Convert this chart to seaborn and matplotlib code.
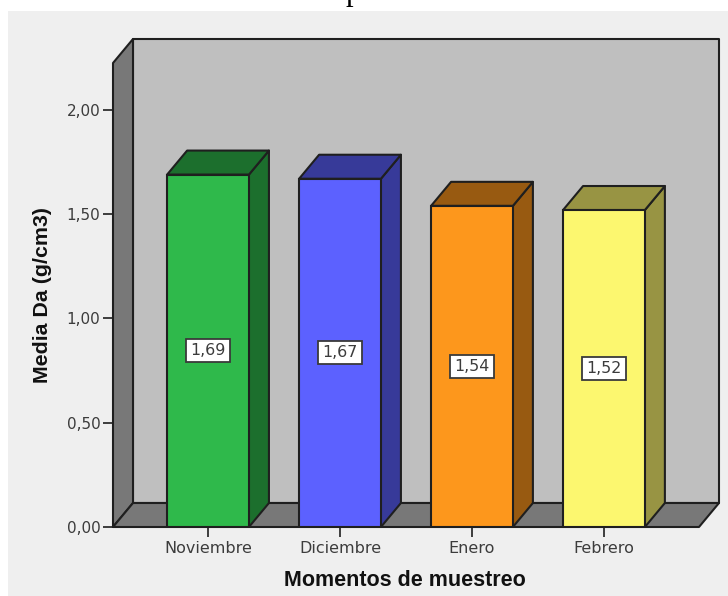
import matplotlib
matplotlib.use("Agg")
import matplotlib.pyplot as plt
from matplotlib.patches import Rectangle
import pandas as pd
import seaborn as sns

# Bulk density per sampling moment
momentos = ["Noviembre", "Diciembre", "Enero", "Febrero"]
media_da = [1.69, 1.67, 1.54, 1.52]
etiquetas = ["1,69", "1,67", "1,54", "1,52"]
y_ticks = [0.0, 0.5, 1.0, 1.5, 2.0]
y_tick_labels = ["0,00", "0,50", "1,00", "1,50", "2,00"]

color_frente = ["#2FB94B", "#5C61FF", "#FD971C", "#FCF76F"]
color_lado = ["#1C6F2D", "#373A99", "#985A11", "#989443"]

W, H = 728, 596
LINE = "#1f1f1f"
TEXT = "#3c3c3c"

sns.set_theme(style="white")
plt.rcParams["font.family"] = ["DejaVu Sans"]

fig = plt.figure(figsize=(W / 100, H / 100), dpi=100, facecolor="white")
fig.add_artist(Rectangle((8 / W, 0), 1 - 8 / W, 1 - 11 / H, transform=fig.transFigure,
                         facecolor="#EFEFEF", edgecolor="none", zorder=-5))
fig.text(346 / W, 1.0, "p", family="Liberation Serif", fontsize=22,
         color="black", ha="left", va="baseline")

ax = fig.add_axes([113 / W, 1 - 527 / H, (699 - 113) / W, (527 - 63) / H])
ax.patch.set_alpha(0)

df = pd.DataFrame({"momento": momentos, "media": media_da})
sns.barplot(data=df, x="momento", y="media", hue="momento", palette=color_frente,
            legend=False, width=0.62, saturation=1, edgecolor=LINE, linewidth=1.5,
            zorder=5, ax=ax)

x0, x1 = -0.72, 3.72
y0, y1 = 0.0, 2.225
ax.set_xlim(x0, x1)
ax.set_ylim(y0, y1)

# Oblique depth of the 3D box, in data units
dx = 20 / 132
dy = 24 / 208.5


def cara(xs, ys, color, z):
    ax.fill(xs, ys, facecolor=color, edgecolor=LINE, linewidth=1.5,
            clip_on=False, zorder=z, joinstyle="round")


# Back wall, left wall and floor
cara([x0 + dx, x1 + dx, x1 + dx, x0 + dx], [dy, dy, y1 + dy, y1 + dy], "#BFBFBF", 1)
cara([x0, x0 + dx, x0 + dx, x0], [y0, dy, y1 + dy, y1], "#787878", 2)
cara([x0, x1, x1 + dx, x0 + dx], [y0, y0, dy, dy], "#787878", 2)

# Side and top of each bar, plus the value label
for i, (v, txt) in enumerate(zip(media_da, etiquetas)):
    a, b = i - 0.31, i + 0.31
    cara([b, b + dx, b + dx, b], [0, dy, v + dy, v], color_lado[i], 4)
    cara([a, b, b + dx, a + dx], [v, v, v + dy, v + dy], color_lado[i], 4)
    ax.text(i, v / 2, txt, ha="center", va="center", fontsize=11.4, color=TEXT, zorder=7,
            bbox=dict(boxstyle="square,pad=0.25", facecolor="white",
                      edgecolor="#3a3a3a", linewidth=1.3))

for s in ax.spines.values():
    s.set_visible(False)

ax.set_yticks(y_ticks, y_tick_labels)
ax.tick_params(axis="y", length=7, width=1.2, color=LINE, labelsize=11,
               labelcolor=TEXT, pad=2, left=True)
ax.tick_params(axis="x", length=7, width=1.2, color=LINE, labelsize=11.5,
               labelcolor=TEXT, pad=3, bottom=True)

ax.set_xlabel("Momentos de muestreo", family="Liberation Sans", fontweight="bold",
              fontsize=15.5, color="#111111")
ax.set_ylabel("Media Da (g/cm3)", family="Liberation Sans", fontweight="bold",
              fontsize=15.4, color="#111111")
ax.xaxis.set_label_coords((405 - 113) / (699 - 113), -(581 - 527) / (527 - 63))
ax.xaxis.label.set_verticalalignment("center")
ax.yaxis.set_label_coords((43 - 113) / (699 - 113), 0.5)
ax.yaxis.label.set_verticalalignment("center")

fig.savefig("out.png", dpi=100, facecolor="white")
